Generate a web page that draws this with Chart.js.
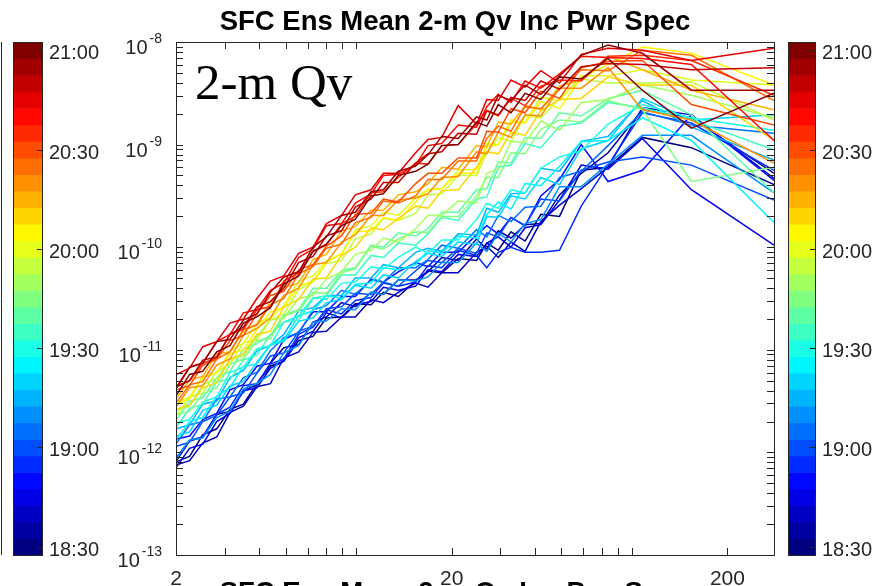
<!DOCTYPE html>
<html>
<head>
<meta charset="utf-8">
<title>SFC Ens Mean 2-m Qv Inc Pwr Spec</title>
<script src="https://cdn.jsdelivr.net/npm/chart.js@4.4.1/dist/chart.umd.min.js"></script>
<style>
    html, body { margin: 0; padding: 0; background: #fff; }
    #wrap { width: 891px; height: 586px; position: relative; }
</style>
</head>
<body>
<div id="wrap"><canvas id="specCanvas" width="891" height="586"></canvas></div>
<script>
// Times of the 31 analyses (one line each, colour from the colorbar)
const times = ['18:30', '18:35', '18:40', '18:45', '18:50', '18:55', '19:00', '19:05', '19:10', '19:15',
    '19:20', '19:25', '19:30', '19:35', '19:40', '19:45', '19:50', '19:55', '20:00', '20:05',
    '20:10', '20:15', '20:20', '20:25', '20:30', '20:35', '20:40', '20:45', '20:50', '20:55', '21:00'];
const colorbarLabels = ['18:30', '19:00', '19:30', '20:00', '20:30', '21:00'];

// x values (wavelength), shared by all lines
const wavelength = [2.01, 2.24, 2.5, 2.81, 3.14, 3.51, 3.93, 4.4, 4.92, 5.57, 6.28, 7.02, 7.97, 8.94,
    10.2, 11.3, 12.8, 14.8, 16.4, 18.4, 21.1, 24.6, 26.8, 29.5, 32.8, 36.9, 42.1, 49.2, 59, 73.8, 98.3, 148, 295];

// log10 of the increment power
const spec1830 = [-12.09,-12.04,-11.83,-11.77,-11.58,-11.53,-11.33,-11.16,-11.11,-10.91,-10.87,-10.69,-10.68,-10.55,-10.56,-10.44,-10.48,-10.33,-10.23,-10.25,-10.11,-10.13,-9.96,-10.03,-9.85,-9.94,-9.68,-9.70,-9.25,-9.22,-8.93,-9.03,-9.39];
const spec1835 = [-12.08,-11.89,-11.85,-11.63,-11.60,-11.40,-11.34,-11.13,-10.98,-10.95,-10.73,-10.68,-10.54,-10.58,-10.44,-10.46,-10.32,-10.32,-10.24,-10.10,-10.13,-9.92,-10.02,-9.84,-9.91,-9.78,-9.77,-9.49,-9.28,-9.08,-8.66,-8.74,-9.28];
const spec1840 = [-12.12,-12.08,-11.91,-11.85,-11.61,-11.55,-11.36,-11.33,-11.08,-11.02,-10.83,-10.82,-10.68,-10.68,-10.51,-10.54,-10.44,-10.35,-10.39,-10.25,-10.25,-10.05,-9.99,-10.10,-9.95,-10.04,-9.75,-9.59,-9.43,-9.22,-8.64,-8.71,-9.33];
const spec1845 = [-12.14,-11.96,-11.92,-11.70,-11.62,-11.40,-11.37,-11.18,-11.11,-10.88,-10.82,-10.64,-10.69,-10.56,-10.53,-10.39,-10.42,-10.38,-10.22,-10.24,-10.07,-10.09,-9.96,-9.90,-10.00,-9.81,-9.78,-9.54,-9.20,-9.24,-8.94,-9.44,-9.98];
const spec1850 = [-11.87,-11.84,-11.68,-11.62,-11.39,-11.34,-11.16,-11.13,-10.90,-10.83,-10.63,-10.63,-10.48,-10.48,-10.31,-10.34,-10.24,-10.15,-10.19,-10.05,-10.05,-9.88,-9.79,-9.87,-9.71,-9.79,-9.50,-9.34,-9.00,-9.36,-9.25,-8.71,-9.35];
const spec1855 = [-12.05,-11.88,-11.85,-11.63,-11.56,-11.35,-11.33,-11.14,-11.09,-10.85,-10.78,-10.61,-10.65,-10.52,-10.49,-10.35,-10.38,-10.34,-10.18,-10.20,-10.03,-10.08,-10.20,-10.05,-10.00,-10.05,-10.05,-10.03,-9.60,-9.20,-8.69,-8.79,-9.25];
const spec1900 = [-11.94,-11.90,-11.70,-11.64,-11.46,-11.42,-11.23,-11.06,-11.03,-10.82,-10.77,-10.60,-10.58,-10.45,-10.46,-10.34,-10.38,-10.23,-10.13,-10.15,-10.01,-10.06,-9.86,-9.90,-9.71,-9.79,-9.53,-9.55,-9.25,-9.17,-9.12,-9.20,-9.54];
const spec1905 = [-11.91,-11.73,-11.70,-11.48,-11.46,-11.27,-11.22,-11.01,-10.88,-10.84,-10.61,-10.57,-10.42,-10.46,-10.32,-10.34,-10.20,-10.20,-10.12,-9.98,-10.01,-9.83,-9.90,-9.69,-9.75,-9.61,-9.60,-9.32,-9.26,-9.01,-8.68,-8.81,-8.89];
const spec1910 = [-12.06,-11.88,-11.86,-11.66,-11.60,-11.38,-11.33,-11.24,-11.03,-10.96,-10.73,-10.72,-10.60,-10.61,-10.44,-10.46,-10.32,-10.33,-10.29,-10.15,-10.15,-9.96,-10.04,-9.86,-9.95,-9.77,-9.73,-9.41,-9.41,-9.19,-8.91,-8.91,-9.47];
const spec1915 = [-11.77,-11.73,-11.53,-11.50,-11.27,-11.20,-11.01,-10.96,-10.85,-10.62,-10.59,-10.47,-10.47,-10.30,-10.30,-10.17,-10.20,-10.05,-10.01,-10.04,-9.87,-9.88,-9.62,-9.66,-9.48,-9.47,-9.23,-9.26,-8.97,-8.92,-8.57,-8.83,-9.15];
const spec1920 = [-11.84,-11.80,-11.59,-11.54,-11.35,-11.31,-11.12,-10.95,-10.92,-10.72,-10.69,-10.54,-10.51,-10.37,-10.40,-10.27,-10.30,-10.14,-10.06,-10.09,-9.95,-9.97,-9.70,-9.71,-9.50,-9.53,-9.32,-9.39,-9.04,-8.96,-8.55,-8.76,-8.71];
const spec1925 = [-11.87,-11.70,-11.66,-11.45,-11.37,-11.16,-11.14,-10.95,-10.90,-10.67,-10.62,-10.47,-10.50,-10.36,-10.35,-10.20,-10.22,-10.17,-10.03,-10.06,-9.89,-9.91,-9.68,-9.56,-9.63,-9.38,-9.40,-9.21,-8.97,-8.96,-8.74,-8.96,-9.76];
const spec1930 = [-11.71,-11.68,-11.51,-11.46,-11.22,-11.17,-10.99,-10.96,-10.73,-10.67,-10.49,-10.51,-10.35,-10.34,-10.19,-10.21,-10.10,-10.00,-10.06,-9.93,-9.93,-9.73,-9.57,-9.62,-9.44,-9.47,-9.23,-9.12,-9.06,-8.80,-8.61,-8.74,-8.86];
const spec1935 = [-11.75,-11.57,-11.53,-11.31,-11.29,-11.10,-11.05,-10.85,-10.73,-10.71,-10.50,-10.47,-10.27,-10.27,-10.08,-10.10,-9.96,-9.98,-9.87,-9.71,-9.74,-9.53,-9.51,-9.22,-9.20,-8.99,-9.03,-8.82,-8.79,-8.59,-8.64,-8.76,-9.05];
const spec1940 = [-11.68,-11.50,-11.47,-11.27,-11.21,-10.99,-10.94,-10.86,-10.66,-10.61,-10.40,-10.40,-10.23,-10.20,-9.98,-10.00,-9.86,-9.89,-9.82,-9.66,-9.66,-9.44,-9.43,-9.17,-9.18,-8.93,-8.94,-8.69,-8.72,-8.55,-8.47,-8.71,-9.47];
const spec1945 = [-11.63,-11.60,-11.43,-11.37,-11.14,-11.09,-10.91,-10.89,-10.67,-10.62,-10.44,-10.45,-10.25,-10.21,-9.99,-10.02,-9.92,-9.85,-9.86,-9.70,-9.70,-9.50,-9.32,-9.32,-9.08,-9.09,-8.85,-8.76,-8.78,-8.57,-8.66,-9.36,-9.22];
const spec1950 = [-11.59,-11.55,-11.34,-11.28,-11.10,-11.06,-10.87,-10.71,-10.69,-10.50,-10.47,-10.31,-10.24,-10.07,-10.03,-9.91,-9.95,-9.82,-9.69,-9.69,-9.55,-9.57,-9.28,-9.24,-8.97,-8.98,-8.77,-8.86,-8.59,-8.56,-8.42,-8.52,-8.74];
const spec1955 = [-11.64,-11.46,-11.42,-11.21,-11.14,-10.93,-10.90,-10.71,-10.65,-10.41,-10.34,-10.16,-10.13,-9.92,-9.87,-9.72,-9.74,-9.67,-9.49,-9.48,-9.30,-9.30,-9.08,-8.93,-8.97,-8.72,-8.74,-8.55,-8.36,-8.40,-8.40,-8.39,-8.76];
const spec2000 = [-11.51,-11.46,-11.26,-11.23,-11.01,-10.94,-10.74,-10.69,-10.57,-10.33,-10.28,-10.13,-10.07,-9.83,-9.79,-9.66,-9.69,-9.52,-9.44,-9.43,-9.25,-9.24,-8.99,-9.00,-8.79,-8.78,-8.54,-8.57,-8.33,-8.33,-8.27,-8.37,-8.42];
const spec2005 = [-11.53,-11.48,-11.27,-11.22,-11.04,-11.00,-10.80,-10.63,-10.59,-10.38,-10.33,-10.15,-10.06,-9.85,-9.84,-9.71,-9.74,-9.56,-9.44,-9.43,-9.28,-9.28,-9.02,-9.00,-8.76,-8.79,-8.58,-8.65,-8.35,-8.22,-8.05,-8.11,-8.42];
const spec2010 = [-11.58,-11.54,-11.37,-11.32,-11.09,-11.04,-10.85,-10.82,-10.58,-10.51,-10.31,-10.30,-10.08,-10.00,-9.81,-9.83,-9.72,-9.60,-9.62,-9.45,-9.44,-9.22,-9.07,-9.09,-8.88,-8.91,-8.67,-8.56,-8.55,-8.34,-8.42,-8.42,-8.96];
const spec2015 = [-11.47,-11.29,-11.26,-11.04,-11.02,-10.82,-10.75,-10.53,-10.39,-10.35,-10.12,-10.07,-9.84,-9.80,-9.64,-9.64,-9.49,-9.46,-9.38,-9.22,-9.24,-9.01,-9.02,-8.78,-8.80,-8.62,-8.66,-8.43,-8.37,-8.14,-8.27,-8.47,-8.66];
const spec2020 = [-11.55,-11.37,-11.35,-11.15,-11.09,-10.86,-10.79,-10.69,-10.47,-10.40,-10.17,-10.15,-9.95,-9.88,-9.69,-9.69,-9.54,-9.52,-9.48,-9.32,-9.31,-9.07,-9.09,-8.88,-8.93,-8.71,-8.72,-8.45,-8.45,-8.25,-8.66,-8.76,-9.18];
const spec2025 = [-11.51,-11.34,-11.31,-11.09,-11.02,-10.80,-10.76,-10.56,-10.50,-10.26,-10.19,-10.01,-9.97,-9.76,-9.71,-9.55,-9.57,-9.50,-9.34,-9.34,-9.16,-9.16,-8.94,-8.82,-8.87,-8.63,-8.65,-8.46,-8.27,-8.28,-8.08,-8.13,-8.57];
const spec2030 = [-11.39,-11.35,-11.15,-11.09,-10.91,-10.86,-10.65,-10.47,-10.43,-10.22,-10.17,-9.99,-9.89,-9.68,-9.67,-9.53,-9.56,-9.38,-9.28,-9.28,-9.13,-9.13,-8.87,-8.88,-8.65,-8.69,-8.48,-8.55,-8.25,-8.19,-8.18,-8.61,-8.81];
const spec2035 = [-11.35,-11.30,-11.13,-11.08,-10.85,-10.80,-10.61,-10.58,-10.33,-10.25,-10.04,-9.98,-9.77,-9.70,-9.47,-9.46,-9.32,-9.18,-9.19,-9.01,-9.00,-8.80,-8.67,-8.72,-8.55,-8.62,-8.43,-8.37,-8.38,-8.14,-8.13,-8.18,-8.52];
const spec2040 = [-11.36,-11.17,-11.13,-10.92,-10.85,-10.64,-10.61,-10.42,-10.35,-10.10,-10.02,-9.79,-9.77,-9.57,-9.48,-9.30,-9.29,-9.20,-9.01,-8.99,-8.81,-8.83,-8.63,-8.51,-8.59,-8.38,-8.45,-8.31,-8.14,-8.15,-8.16,-8.22,-8.96];
const spec2045 = [-11.24,-11.18,-10.97,-10.92,-10.74,-10.70,-10.50,-10.33,-10.28,-10.06,-10.00,-9.77,-9.69,-9.49,-9.44,-9.28,-9.28,-9.08,-8.95,-8.93,-8.62,-8.80,-8.56,-8.57,-8.37,-8.44,-8.28,-8.40,-8.12,-8.06,-8.08,-8.18,-8.06];
const spec2050 = [-11.36,-11.30,-11.10,-11.07,-10.85,-10.78,-10.58,-10.53,-10.40,-10.15,-10.09,-9.89,-9.84,-9.61,-9.53,-9.37,-9.37,-9.18,-9.09,-9.07,-8.89,-8.90,-8.67,-8.71,-8.54,-8.57,-8.38,-8.46,-8.24,-8.21,-8.22,-8.27,-8.25];
const spec2055 = [-11.37,-11.17,-11.13,-10.92,-10.90,-10.71,-10.65,-10.44,-10.29,-10.24,-10.00,-9.90,-9.69,-9.66,-9.46,-9.44,-9.26,-9.21,-9.10,-8.92,-8.94,-8.73,-8.76,-8.52,-8.57,-8.42,-8.51,-8.33,-8.13,-8.03,-8.11,-8.47,-8.47];
const spec2100 = [-11.44,-11.24,-11.21,-11.02,-10.96,-10.74,-10.68,-10.59,-10.36,-10.28,-10.04,-9.97,-9.79,-9.73,-9.50,-9.48,-9.30,-9.26,-9.19,-9.01,-9.00,-8.78,-8.82,-8.61,-8.69,-8.50,-8.56,-8.34,-8.36,-8.16,-8.47,-8.84,-8.50];

const spectra = [spec1830, spec1835, spec1840, spec1845, spec1850, spec1855, spec1900, spec1905, spec1910, spec1915,
    spec1920, spec1925, spec1930, spec1935, spec1940, spec1945, spec1950, spec1955, spec2000, spec2005,
    spec2010, spec2015, spec2020, spec2025, spec2030, spec2035, spec2040, spec2045, spec2050, spec2055, spec2100];

// Axis ticks
const xTickLabels = [2, 20, 200];
const xMinorTicks = [3, 4, 5, 6, 7, 8, 9, 30, 40, 50, 60, 70, 80, 90];
const yTickExps = [-13, -12, -11, -10, -9, -8];

const titleText = 'SFC Ens Mean 2-m Qv Inc Pwr Spec';
const panelLabel = '2-m Qv';

const sans = '"Liberation Sans", Arial, Helvetica, sans-serif';
const axisColor = '#262626';

// MATLAB style jet colour
function jet(t) {
    const c = v => Math.round(255 * Math.max(0, Math.min(1, v)));
    return `rgb(${c(1.5 - Math.abs(4 * t - 3))}, ${c(1.5 - Math.abs(4 * t - 2))}, ${c(1.5 - Math.abs(4 * t - 1))})`;
}
const lineColors = times.map((_, i) => jet(i / (times.length - 1)));

function drawColorbar(ctx, left, width, top, bottom) {
    const n = times.length;
    const h = (bottom - top) / n;
    times.forEach((t, i) => {
        ctx.fillStyle = lineColors[i];
        ctx.fillRect(left, bottom - (i + 1) * h, width, h + 0.6);
    });
    ctx.strokeStyle = axisColor;
    ctx.lineWidth = 1;
    ctx.strokeRect(left + 0.5, top + 0.5, width, bottom - top);
    ctx.font = '20px ' + sans;
    ctx.fillStyle = axisColor;
    ctx.textAlign = 'left';
    ctx.textBaseline = 'alphabetic';
    colorbarLabels.forEach(lbl => {
        const i = times.indexOf(lbl);
        const yc = Math.round(bottom - (i + 0.5) * h) + 0.5;
        ctx.beginPath();
        ctx.moveTo(left + width - 5, yc);
        ctx.lineTo(left + width + 0.5, yc);
        ctx.stroke();
        ctx.fillText(lbl, left + width + 7, yc + 8);
    });
}

const specFrame = {
    id: 'specFrame',
    afterDraw(chart) {
        const { ctx, chartArea: a } = chart;
        const xs = chart.scales.x;
        const ys = chart.scales.y;
        ctx.save();

        // axes box with inward ticks on all four sides
        ctx.strokeStyle = axisColor;
        ctx.lineWidth = 1;
        ctx.strokeRect(a.left + 0.5, a.top + 0.5, a.right - a.left, a.bottom - a.top);
        const tick = 7;
        ctx.beginPath();
        xTickLabels.concat(xMinorTicks).forEach(v => {
            const px = Math.round(xs.getPixelForValue(v)) + 0.5;
            ctx.moveTo(px, a.bottom);
            ctx.lineTo(px, a.bottom - tick);
            ctx.moveTo(px, a.top);
            ctx.lineTo(px, a.top + tick);
        });
        yTickExps.forEach(e => {
            const mults = e === -8 ? [1] : [1, 2, 3, 4, 5, 6, 7, 8, 9];
            mults.forEach(m => {
                const py = Math.round(ys.getPixelForValue(m * Math.pow(10, e))) + 0.5;
                ctx.moveTo(a.left, py);
                ctx.lineTo(a.left + tick, py);
                ctx.moveTo(a.right, py);
                ctx.lineTo(a.right - tick, py);
            });
        });
        ctx.stroke();

        // y tick labels: 10 with superscript exponent
        ctx.fillStyle = axisColor;
        ctx.textBaseline = 'alphabetic';
        ctx.textAlign = 'left';
        yTickExps.forEach(e => {
            const py = ys.getPixelForValue(Math.pow(10, e));
            const sup = String(e);
            ctx.font = '14px ' + sans;
            const supW = ctx.measureText(sup).width;
            ctx.font = '20px ' + sans;
            const baseW = ctx.measureText('10').width;
            const right = 162;
            ctx.fillText('10', right - supW - 2 - baseW, py + 12);
            ctx.font = '14px ' + sans;
            ctx.fillText(sup, right - supW, py + 1);
        });

        // title of the panel below, cut by the bottom edge
        ctx.fillStyle = '#000';
        ctx.font = 'bold 27.5px ' + sans;
        ctx.textAlign = 'center';
        ctx.fillText(titleText, 455, 601);

        // x tick labels
        ctx.fillStyle = axisColor;
        ctx.font = '21px ' + sans;
        xTickLabels.forEach(v => {
            ctx.fillText(String(v), xs.getPixelForValue(v), 585);
        });

        // title
        ctx.fillStyle = '#000';
        ctx.font = 'bold 27.5px ' + sans;
        ctx.fillText(titleText, 455, 30);

        // panel label
        ctx.textAlign = 'left';
        ctx.font = '51px "Liberation Serif", "Times New Roman", serif';
        ctx.fillText(panelLabel, 195, 99);

        // colorbars on both sides
        drawColorbar(ctx, 13, 29, a.top, a.bottom);
        drawColorbar(ctx, 788, 27, a.top, a.bottom);

        // edge of the neighbouring panel's axis
        ctx.strokeStyle = axisColor;
        ctx.beginPath();
        ctx.moveTo(1.5, a.top);
        ctx.lineTo(1.5, a.bottom);
        ctx.stroke();

        ctx.restore();
    }
};

const datasets = spectra.map((vals, i) => ({
    label: times[i],
    data: wavelength.map((x, j) => ({ x: x, y: Math.pow(10, vals[j]) })),
    borderColor: lineColors[i],
    borderWidth: 1.5,
    pointRadius: 0,
    tension: 0,
    fill: false,
    order: times.length - i   // later times drawn on top
}));

const ctx = document.getElementById('specCanvas').getContext('2d');
new Chart(ctx, {
    type: 'line',
    data: { datasets: datasets },
    options: {
        responsive: false,
        animation: false,
        devicePixelRatio: 1,
        layout: { padding: { top: 42, right: 117, left: 0, bottom: 0 } },
        plugins: {
            legend: { display: false },
            title: { display: false },
            tooltip: { enabled: false }
        },
        scales: {
            x: {
                type: 'logarithmic',
                min: 2,
                max: 295,
                grid: { display: false },
                border: { display: false },
                ticks: { display: false },
                afterFit(scale) { scale.height = 31; }
            },
            y: {
                type: 'logarithmic',
                min: 1e-13,
                max: 1e-8,
                grid: { display: false },
                border: { display: false },
                ticks: { display: false },
                afterFit(scale) { scale.width = 176; }
            }
        }
    },
    plugins: [specFrame]
});
</script>
</body>
</html>
